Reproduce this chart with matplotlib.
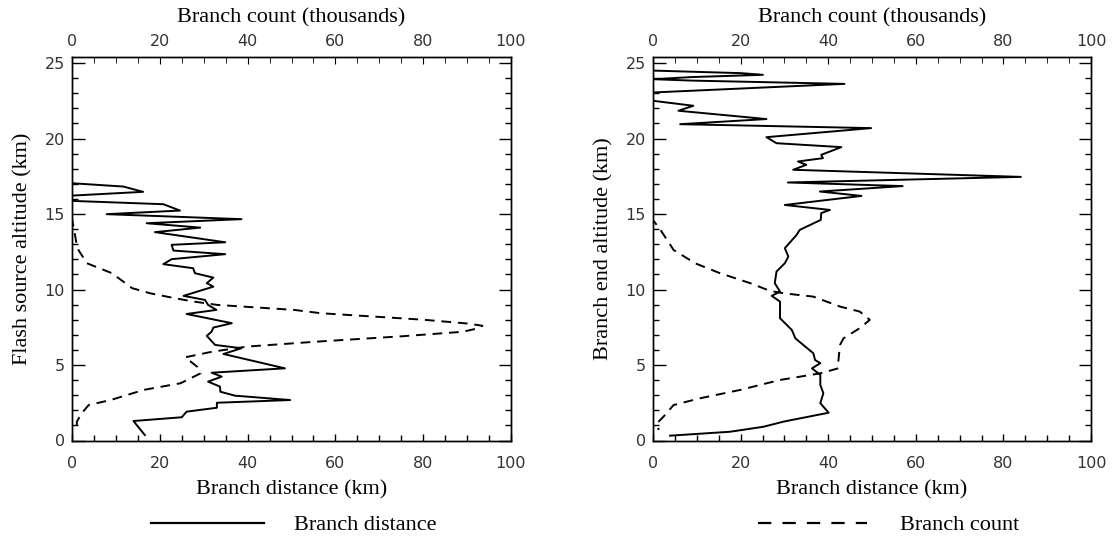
import matplotlib
matplotlib.use("Agg")
import matplotlib.pyplot as plt
from matplotlib.lines import Line2D
from matplotlib.ticker import MultipleLocator

# left panel: flash source altitude
left_dist_alt = [17.04, 16.82, 16.47, 16.22, 15.87, 15.65, 15.23, 14.99, 14.66, 14.39, 14.10, 13.80,
                 13.13, 12.96, 12.58, 12.34, 12.01, 11.68, 11.41, 11.08, 10.79, 10.42, 10.19, 9.58,
                 9.31, 8.98, 8.65, 8.38, 7.77, 7.48, 7.21, 6.93, 6.33, 6.11, 5.73, 4.78, 4.49, 4.23,
                 3.90, 3.57, 3.23, 2.97, 2.68, 2.50, 2.17, 1.91, 1.54, 1.29, 0.36]
left_dist = [0, 11.7, 16.2, 0, 0, 20.8, 24.6, 7.9, 38.6, 17.0, 29.2, 18.9,
             34.9, 22.7, 23.1, 34.9, 22.7, 20.8, 27.6, 28.0, 32.2, 30.7, 32.2, 25.4,
             30.3, 31.0, 32.9, 26.1, 36.4, 32.2, 31.8, 30.7, 32.6, 38.6, 34.5, 48.5, 31.8, 34.1,
             31.0, 33.7, 33.8, 37.1, 49.7, 33.0, 33.0, 26.1, 25.0, 14.0, 16.6]

left_count_alt = [17.0, 14.7, 13.9, 13.1, 12.6, 11.74, 11.3, 11.08, 10.09, 9.75, 9.42, 9.20, 8.98,
                  8.65, 8.43, 8.0, 7.75, 7.6, 7.4, 7.2, 6.9, 6.55, 6.22, 5.88, 5.51, 4.89, 4.45,
                  3.79, 3.35, 2.68, 2.35, 1.80, 1.25, 0.5]
left_count = [0, 0, 0.5, 1.0, 1.5, 3.4, 7.2, 9.1, 13.7, 17.8, 23.5, 27.8, 33.1,
              50.6, 56.7, 80, 90, 93.5, 92, 89, 75, 55.9, 39.9, 31.9, 25.8, 28.5, 29.3,
              24.7, 16.3, 8.8, 3.8, 2.2, 1.1, 1.1]

# right panel: branch end altitude
right_dist_alt = [24.5, 24.33, 24.22, 24.07, 23.93, 23.84, 23.62, 23.05, 22.5, 22.17, 21.84, 21.29,
                  20.95, 20.69, 20.09, 19.69, 19.43, 18.92, 18.70, 18.48, 18.26, 17.93, 17.46, 17.09,
                  16.85, 16.49, 16.2, 15.6, 15.27, 15.06, 14.61, 13.95, 13.62, 12.74, 12.18, 11.74,
                  11.19, 10.42, 9.86, 9.58, 9.20, 8.10, 7.32, 6.77, 6.33, 5.78, 5.33, 5.12, 4.78,
                  4.34, 3.68, 3.13, 2.47, 1.84, 1.25, 0.91, 0.58, 0.32]
right_dist = [0, 20.1, 25.1, 8.8, 0, 8.5, 43.7, 0, 0, 9.2, 5.8, 25.9,
              6.2, 49.8, 25.9, 28.2, 43.0, 38.4, 38.8, 33.1, 35.0, 32.0, 84.0, 30.8,
              57.0, 38.1, 47.6, 30.1, 40.4, 38.4, 38.3, 33.5, 32.8, 30.1, 30.9, 30.1,
              28.2, 27.8, 29.0, 27.1, 29.0, 29.0, 31.7, 32.5, 34.3, 36.6, 37.0, 38.2, 36.3,
              38.2, 38.2, 38.9, 38.2, 40.1, 29.8, 25.2, 17.6, 3.9]

right_count_alt = [24.7, 14.6, 13.95, 12.62, 11.74, 11.08, 10.42, 9.91, 9.75, 9.53, 8.87, 8.54,
                   7.99, 7.44, 6.77, 6.33, 5.22, 4.78, 4.45, 4.01, 3.35, 2.80, 2.35, 1.58, 1.14, 0.7]
right_count = [0, 0, 1.7, 4.7, 9.6, 15.3, 22.2, 26.7, 29.8, 36.6, 42.7, 47.2,
               49.5, 47.2, 43.5, 42.7, 42.3, 42.3, 38.2, 29.0, 19.9, 10.8, 4.7, 2.4, 0.9, 1.3]

W, H = 1112, 546
fig = plt.figure(figsize=(W / 100, H / 100), dpi=100)

serif = "Liberation Serif"
tickfont = dict(family="DejaVu Sans", size=11.5)
dash = (0, (5, 3.5))
FS = 16


def make_panel(x0, x1, dist, dist_alt, count, count_alt, ylabel):
    ax = fig.add_axes([x0 / W, 1 - 440.5 / H, (x1 - x0) / W, (440.5 - 57) / H])
    ax.plot(dist, dist_alt, color="black", lw=1.4)
    ax.set_xlim(0, 100)
    ax.set_ylim(0, 25.4)
    ax.xaxis.set_major_locator(MultipleLocator(20))
    ax.xaxis.set_minor_locator(MultipleLocator(5))
    ax.yaxis.set_major_locator(MultipleLocator(5))
    ax.yaxis.set_minor_locator(MultipleLocator(1))
    ax.tick_params(axis="both", which="both", direction="in", right=True, colors="black",
                   labelcolor="#333333")
    ax.tick_params(axis="y", which="major", length=9, width=1, pad=5)
    ax.tick_params(axis="y", which="minor", length=4.5, width=1)
    ax.tick_params(axis="x", which="major", length=5, width=1, pad=11)
    ax.tick_params(axis="x", which="minor", length=4, width=1)
    for lab in ax.get_xticklabels() + ax.get_yticklabels():
        lab.set_fontfamily(tickfont["family"])
        lab.set_fontsize(tickfont["size"])
    ax.get_yticklabels()[0].set_verticalalignment("bottom")
    ax.set_xlabel("Branch distance (km)", family=serif, fontsize=FS, labelpad=7)
    ax.set_ylabel(ylabel, family=serif, fontsize=FS, labelpad=9)

    top = ax.twiny()
    top.plot(count, count_alt, color="black", lw=1.4, linestyle=dash)
    top.set_xlim(0, 100)
    top.xaxis.set_major_locator(MultipleLocator(20))
    top.xaxis.set_minor_locator(MultipleLocator(5))
    top.tick_params(axis="x", which="both", direction="in", labelcolor="#333333")
    top.tick_params(axis="x", which="major", length=5, pad=6)
    top.tick_params(axis="x", which="minor", length=4)
    for lab in top.get_xticklabels():
        lab.set_fontfamily(tickfont["family"])
        lab.set_fontsize(tickfont["size"])
    top.set_xlabel("Branch count (thousands)", family=serif, fontsize=FS, labelpad=8)
    for a in (ax, top):
        for s in a.spines.values():
            s.set_linewidth(1.0)
    return ax


make_panel(72, 511, left_dist, left_dist_alt, left_count, left_count_alt,
           "Flash source altitude (km)")
make_panel(653, 1091, right_dist, right_dist_alt, right_count, right_count_alt,
           "Branch end altitude (km)")

# legend row under the panels
h_solid = Line2D([], [], color="black", lw=1.6)
h_dash = Line2D([], [], color="black", lw=1.6, linestyle=(0, (6, 5)))
fig.legend([h_solid], ["Branch distance"], loc="center left",
           bbox_to_anchor=(131 / W, 1 - 525 / H), frameon=False,
           prop={"family": serif, "size": FS}, handlelength=5.1, handletextpad=1.35)
fig.legend([h_dash], ["Branch count"], loc="center left",
           bbox_to_anchor=(738 / W, 1 - 525 / H), frameon=False,
           prop={"family": serif, "size": FS}, handlelength=4.9, handletextpad=1.5)

fig.savefig("out.png", dpi=100)
